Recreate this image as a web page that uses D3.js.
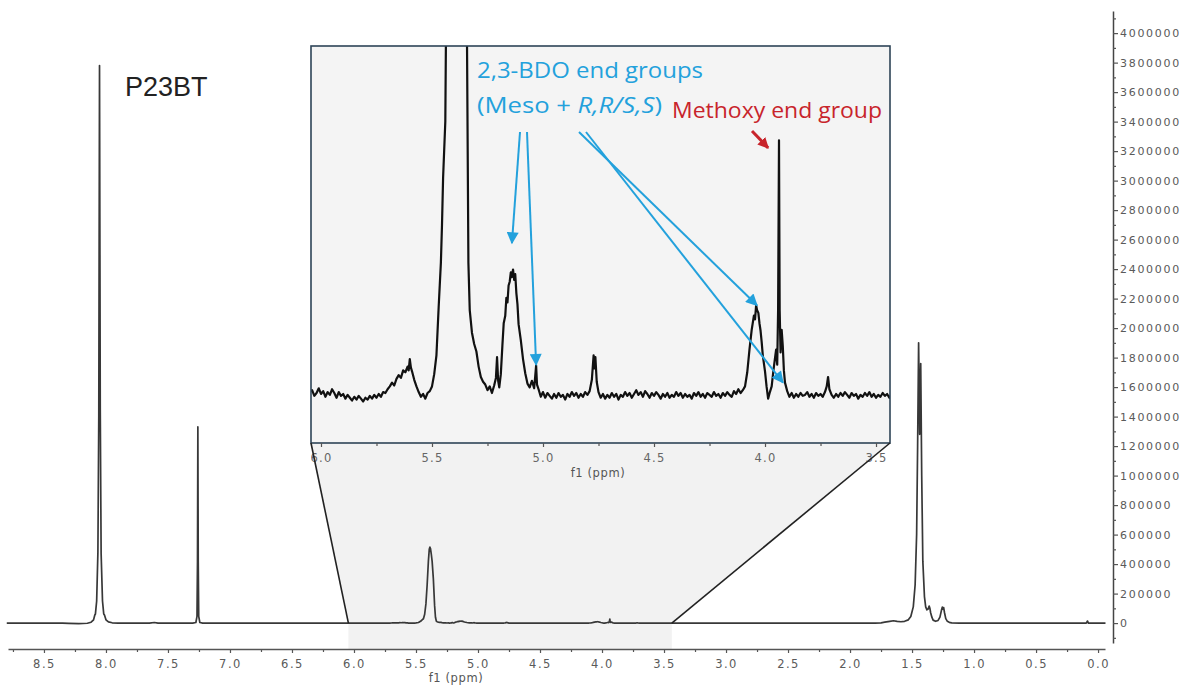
<!DOCTYPE html>
<html>
<head>
<meta charset="utf-8">
<script src="https://cdn.jsdelivr.net/npm/d3@7"></script>
<style>
  html, body { margin: 0; padding: 0; background: #ffffff; }
  svg { display: block; }
</style>
</head>
<body>
<svg id="chart" width="1192" height="686"></svg>
<script>
// 1H NMR spectrum of P23BT: [chemical shift (ppm), intensity]
const spectrum = [
  [8.80, 0], [8.50, 0], [8.35, 0], [8.30, -2000], [8.22, -4000], [8.15, -1000],
  [8.12, 6000], [8.10, 22000], [8.09, 55000], [8.085, 62000], [8.075, 150000],
  [8.065, 480000], [8.058, 1400000], [8.052, 3780000], [8.046, 1450000],
  [8.039, 470000], [8.028, 150000], [8.018, 62000], [8.012, 55000], [8.00, 22000],
  [7.98, 8000], [7.95, 2000], [7.90, 0], [7.65, 0], [7.61, 4000], [7.58, 0],
  [7.30, 0], [7.275, 4000], [7.266, 45000], [7.262, 420000], [7.259, 1330000],
  [7.256, 420000], [7.252, 45000], [7.243, 4000], [7.22, 0], [6.80, 0], [6.10, 0],
  [6.07, 100], [6.06, -200], [6.05, 300], [6.04, 500], [6.03, -100], [6.02, 200],
  [6.01, 700], [6.00, 100], [5.99, 400], [5.98, -200], [5.97, 300], [5.96, 0],
  [5.95, 600], [5.94, 200], [5.93, -300], [5.92, 300], [5.91, -100], [5.90, 100],
  [5.89, -400], [5.88, 0], [5.87, -300], [5.86, -600], [5.85, -200], [5.84, -500],
  [5.83, -100], [5.82, -400], [5.81, -700], [5.80, -300], [5.79, -500], [5.78, -100],
  [5.77, -400], [5.76, 0], [5.75, -300], [5.74, 100], [5.73, -200], [5.72, 300],
  [5.71, 200], [5.70, 600], [5.69, 900], [5.68, 1300], [5.67, 1000], [5.66, 1700],
  [5.65, 2100], [5.64, 1800], [5.63, 2600], [5.62, 2400], [5.61, 3000], [5.605, 2600],
  [5.60, 3800], [5.595, 2900], [5.59, 2500], [5.58, 1600], [5.57, 900], [5.56, 300],
  [5.55, -200], [5.54, 100], [5.53, -400], [5.52, 200], [5.51, 400], [5.50, 900],
  [5.49, 2200], [5.48, 4200], [5.47, 9300], [5.46, 14000], [5.455, 18000],
  [5.45, 23000], [5.44, 29000], [5.43, 60000], [5.42, 130000], [5.41, 260000],
  [5.40, 420000], [5.393, 500000], [5.388, 515000], [5.383, 505000], [5.377, 470000],
  [5.37, 420000], [5.36, 300000], [5.35, 120000], [5.343, 40000], [5.336, 14000],
  [5.33, 9000], [5.32, 6600], [5.31, 5400], [5.30, 4600], [5.29, 3000], [5.28, 1900],
  [5.27, 1400], [5.26, 1100], [5.25, 500], [5.24, 900], [5.23, 200], [5.22, 1000],
  [5.212, 1800], [5.207, 4000], [5.202, 1500], [5.197, 800], [5.19, 2200],
  [5.183, 5200], [5.177, 7600], [5.17, 8400], [5.165, 10300], [5.16, 9800],
  [5.155, 11600], [5.15, 12000], [5.145, 13000], [5.14, 12500], [5.135, 13300],
  [5.13, 12200], [5.125, 12800], [5.12, 10800], [5.115, 9600], [5.11, 7500],
  [5.10, 5800], [5.09, 3800], [5.08, 2300], [5.07, 1200], [5.06, 800], [5.05, 1500],
  [5.04, 700], [5.035, 2000], [5.031, 3100], [5.027, 1100], [5.02, 600], [5.01, -200],
  [5.00, 300], [4.99, -300], [4.98, 200], [4.97, -100], [4.96, -400], [4.95, 100],
  [4.94, -300], [4.93, 200], [4.92, -200], [4.91, 0], [4.90, -500], [4.89, 100],
  [4.88, -200], [4.87, 300], [4.86, -100], [4.85, 200], [4.84, -300], [4.83, 100],
  [4.82, -200], [4.81, 300], [4.80, 0], [4.79, 400], [4.78, 1600], [4.772, 4200],
  [4.768, 2800], [4.764, 4000], [4.758, 1400], [4.75, 300], [4.74, -300], [4.73, 100],
  [4.72, -400], [4.71, 0], [4.70, -300], [4.69, 200], [4.68, -200], [4.67, 100],
  [4.66, -500], [4.65, 0], [4.64, -200], [4.63, 300], [4.62, -100], [4.61, 200],
  [4.60, -300], [4.59, 100], [4.58, 500], [4.57, 0], [4.56, 300], [4.55, -200],
  [4.54, 400], [4.53, 100], [4.52, -300], [4.51, 200], [4.50, -100], [4.49, 300],
  [4.48, 0], [4.47, -400], [4.46, 100], [4.45, -200], [4.44, 200], [4.43, -300],
  [4.42, 0], [4.41, -200], [4.40, 300], [4.39, -100], [4.38, 200], [4.37, -300],
  [4.36, 100], [4.35, -200], [4.34, 0], [4.33, -400], [4.32, 200], [4.31, -100],
  [4.30, 300], [4.29, -200], [4.28, 100], [4.27, -300], [4.26, 200], [4.25, 0],
  [4.24, -200], [4.23, 300], [4.22, -100], [4.21, 100], [4.20, -300], [4.19, 200],
  [4.18, -100], [4.17, 300], [4.16, 0], [4.15, -200], [4.14, 400], [4.13, 100],
  [4.12, 600], [4.11, 200], [4.10, 500], [4.09, 900], [4.08, 2400], [4.07, 4800],
  [4.06, 6900], [4.05, 8400], [4.045, 8000], [4.04, 9500], [4.036, 9000],
  [4.03, 8700], [4.025, 7600], [4.02, 6800], [4.015, 5600], [4.01, 4200],
  [4.00, 2500], [3.993, 900], [3.986, -400], [3.978, 300], [3.97, 900],
  [3.962, 2600], [3.955, 3900], [3.95, 4800], [3.945, 3200], [3.941, 9000],
  [3.937, 27000], [3.934, 9000], [3.93, 4500], [3.925, 6900], [3.92, 5200],
  [3.915, 2600], [3.91, 1300], [3.90, 400], [3.89, -200], [3.88, 200], [3.87, -300],
  [3.86, 100], [3.85, -200], [3.84, 200], [3.83, -100], [3.82, 0], [3.81, 300],
  [3.80, -200], [3.79, 100], [3.78, -300], [3.77, 200], [3.76, -100], [3.75, 100],
  [3.74, -200], [3.73, 300], [3.722, 900], [3.716, 1900], [3.71, 600], [3.70, 0],
  [3.69, -300], [3.68, 100], [3.67, -200], [3.66, 200], [3.65, -100], [3.64, 300],
  [3.63, 0], [3.62, -300], [3.61, 200], [3.60, -100], [3.59, 100], [3.58, -400],
  [3.57, 0], [3.56, -200], [3.55, 200], [3.54, -100], [3.53, 300], [3.52, -200],
  [3.51, 100], [3.50, -300], [3.49, 0], [3.48, -200], [3.47, 200], [3.46, -100],
  [3.45, 100], [3.44, -300], [3.43, 0], [3.42, 100], [3.40, 0],
  [2.00, 0], [1.80, 0], [1.75, 2000], [1.72, 6000], [1.68, 12000], [1.65, 16000],
  [1.62, 12000], [1.59, 9000], [1.56, 12000], [1.53, 22000], [1.51, 45000],
  [1.49, 110000], [1.475, 260000], [1.463, 600000], [1.455, 1200000],
  [1.447, 1900000], [1.4385, 1280000], [1.43, 1760000], [1.422, 1000000],
  [1.413, 420000], [1.40, 180000], [1.39, 110000], [1.38, 90000], [1.37, 95000],
  [1.362, 115000], [1.356, 100000], [1.35, 70000], [1.34, 40000], [1.33, 20000],
  [1.31, 12000], [1.29, 18000], [1.275, 40000], [1.262, 90000], [1.256, 108000],
  [1.25, 95000], [1.245, 105000], [1.238, 70000], [1.228, 30000], [1.215, 12000],
  [1.20, 5000], [1.18, 1500], [1.12, 0], [0.30, 0], [0.095, 0], [0.085, 14000],
  [0.078, 0], [-0.06, 0]
];

// Axis ticks
const ppmTicks = [8.5, 8.0, 7.5, 7.0, 6.5, 6.0, 5.5, 5.0, 4.5, 4.0, 3.5, 3.0, 2.5, 2.0, 1.5, 1.0, 0.5, 0.0];
const ppmMinorTicks = [8.75, 8.25, 7.75, 7.25, 6.75, 6.25, 5.75, 5.25, 4.75, 4.25, 3.75, 3.25, 2.75, 2.25, 1.75, 1.25, 0.75, 0.25];
const insetTicks = [6.0, 5.5, 5.0, 4.5, 4.0, 3.5];
const insetMinorTicks = [5.75, 5.25, 4.75, 4.25, 3.75];
const intensityTicks = [0, 200000, 400000, 600000, 800000, 1000000, 1200000, 1400000,
  1600000, 1800000, 2000000, 2200000, 2400000, 2600000, 2800000, 3000000, 3200000,
  3400000, 3600000, 3800000, 4000000];
const intensityMinorTicks = [-100000, 100000, 300000, 500000, 700000, 900000, 1100000,
  1300000, 1500000, 1700000, 1900000, 2100000, 2300000, 2500000, 2700000, 2900000,
  3100000, 3300000, 3500000, 3700000, 3900000, 4100000];

// Expanded region shown in the inset (ppm)
const insetRange = [6.045, 3.437];

// Peak assignments in the inset: [ppm, intensity] targets of the arrows
const bdoTargets = [[5.140, 16100], [5.031, 3200], [4.036, 9500], [3.919, 1300]];
const methoxyTarget = [3.986, 26200];

const sampleName = "P23BT";
const bdoLabel = "2,3-BDO end groups";
const methoxyLabel = "Methoxy end group";

const blue = "#23a1dc";
const red = "#c8242b";
const tickFont = "DejaVu Sans, Verdana, sans-serif";

const svg = d3.select("#chart");
const defs = svg.append("defs");

// Scales for the full spectrum
const x = d3.scaleLinear().domain([8.79, -0.056]).range([8, 1105]);
const y = d3.scaleLinear().domain([-135000, 4150000]).range([643, 11]);
const axisY = 649;
const axisX = 1113;

// Scales for the expanded inset
const box = { x0: 311, x1: 890, y0: 46, y1: 443 };
const xIn = d3.scaleLinear().domain(insetRange).range([box.x0, box.x1]);
const yIn = d3.scaleLinear().domain([-5100, 37000]).range([box.y1, box.y0]);

// Shaded region linking the inset to the full spectrum
const bx0 = x(insetRange[0]), bx1 = x(insetRange[1]), by = y(0);
svg.append("path")
  .attr("d", `M${box.x0},${box.y1}L${box.x1},${box.y1}L${bx1},${by}L${bx1},${axisY}L${bx0},${axisY}L${bx0},${by}Z`)
  .attr("fill", "#f2f2f2");

// Full spectrum trace
const mainLine = d3.line().x(d => x(d[0])).y(d => y(d[1]));
svg.append("path")
  .datum(spectrum)
  .attr("d", mainLine)
  .attr("fill", "none")
  .attr("stroke", "#383838")
  .attr("stroke-width", 1.7)
  .attr("stroke-linejoin", "round");

// Inset frame
svg.append("rect")
  .attr("x", box.x0).attr("y", box.y0)
  .attr("width", box.x1 - box.x0).attr("height", box.y1 - box.y0)
  .attr("fill", "#f4f4f4");

defs.append("clipPath").attr("id", "insetClip")
  .append("rect")
  .attr("x", box.x0).attr("y", box.y0)
  .attr("width", box.x1 - box.x0).attr("height", box.y1 - box.y0);

const insetLine = d3.line().x(d => xIn(d[0])).y(d => yIn(d[1]));
svg.append("path")
  .datum(spectrum.filter(d => d[0] <= 6.1 && d[0] >= 3.4))
  .attr("clip-path", "url(#insetClip)")
  .attr("d", insetLine)
  .attr("fill", "none")
  .attr("stroke", "#111111")
  .attr("stroke-width", 2.2)
  .attr("stroke-linejoin", "round");

svg.append("rect")
  .attr("x", box.x0).attr("y", box.y0)
  .attr("width", box.x1 - box.x0).attr("height", box.y1 - box.y0)
  .attr("fill", "none")
  .attr("stroke", "#2d4457")
  .attr("stroke-width", 1.6);

// Inset x axis (labels clipped to the inset width; coordinates are local to the axis group)
defs.append("clipPath").attr("id", "insetAxisClip")
  .append("rect")
  .attr("x", box.x0).attr("y", -2)
  .attr("width", box.x1 - box.x0 + 2).attr("height", 40);

function styleAxis(g, size, spacing, color) {
  g.attr("font-family", tickFont).attr("font-size", size);
  g.selectAll(".tick text").attr("fill", color).attr("letter-spacing", spacing);
  g.selectAll(".tick line").attr("stroke", "#555").attr("stroke-width", 1.2);
}

const gInset = svg.append("g")
  .attr("transform", `translate(0,${box.y1})`)
  .attr("clip-path", "url(#insetAxisClip)");
gInset.append("g")
  .call(d3.axisBottom(xIn).tickValues(insetTicks).tickSize(4).tickSizeOuter(0)
    .tickPadding(7).tickFormat(d3.format(".1f")))
  .call(g => g.select(".domain").remove())
  .call(g => styleAxis(g, 11.5, 1.3, "#666"));
gInset.append("g")
  .call(d3.axisBottom(xIn).tickValues(insetMinorTicks).tickSize(3).tickSizeOuter(0).tickFormat(""))
  .call(g => g.select(".domain").remove())
  .call(g => styleAxis(g, 11, 0, "#666"));

svg.append("text")
  .attr("x", 598).attr("y", 477)
  .attr("text-anchor", "middle")
  .attr("font-family", tickFont).attr("font-size", 11.5)
  .attr("letter-spacing", 0.6)
  .attr("fill", "#555")
  .text("f1 (ppm)");

// Connector lines from inset corners to the expanded region
svg.append("line")
  .attr("x1", box.x0).attr("y1", box.y1).attr("x2", bx0).attr("y2", by)
  .attr("stroke", "#222").attr("stroke-width", 1.6);
svg.append("line")
  .attr("x1", box.x1).attr("y1", box.y1).attr("x2", bx1).attr("y2", by)
  .attr("stroke", "#222").attr("stroke-width", 1.6);

// Main x axis
const gx = svg.append("g").attr("transform", `translate(0,${axisY})`);
gx.append("g")
  .call(d3.axisBottom(x).tickValues(ppmTicks).tickSize(4).tickSizeOuter(0)
    .tickPadding(7).tickFormat(d3.format(".1f")))
  .call(g => g.select(".domain").attr("stroke", "#555").attr("stroke-width", 1.6))
  .call(g => styleAxis(g, 11.5, 1.5, "#5a5a5a"));
gx.append("g")
  .call(d3.axisBottom(x).tickValues(ppmMinorTicks).tickSize(3).tickSizeOuter(0).tickFormat(""))
  .call(g => g.select(".domain").remove())
  .call(g => styleAxis(g, 11, 0, "#5a5a5a"));

svg.append("text")
  .attr("x", 456).attr("y", 682)
  .attr("text-anchor", "middle")
  .attr("font-family", tickFont).attr("font-size", 11.5)
  .attr("letter-spacing", 0.6)
  .attr("fill", "#555")
  .text("f1 (ppm)");

// Main intensity axis (right)
const gy = svg.append("g").attr("transform", `translate(${axisX},0)`);
gy.append("g")
  .call(d3.axisRight(y).tickValues(intensityTicks).tickSize(5).tickSizeOuter(0)
    .tickPadding(2).tickFormat(d3.format("d")))
  .call(g => g.select(".domain").attr("stroke", "#444").attr("stroke-width", 1.5))
  .call(g => styleAxis(g, 11, 1.7, "#5a5a5a"));
gy.append("g")
  .call(d3.axisRight(y).tickValues(intensityMinorTicks).tickSize(3).tickSizeOuter(0).tickFormat(""))
  .call(g => g.select(".domain").remove())
  .call(g => styleAxis(g, 11, 0, "#5a5a5a"));

// Sample name
svg.append("text")
  .attr("x", 125).attr("y", 96)
  .attr("font-family", "Liberation Sans, Arial, sans-serif")
  .attr("font-size", 27)
  .attr("fill", "#222")
  .text(sampleName);

// Annotations
const annoFont = "Open Sans, Noto Sans, sans-serif";
svg.append("text")
  .attr("x", 477).attr("y", 78)
  .attr("font-family", annoFont).attr("font-size", 22)
  .attr("textLength", 226).attr("lengthAdjust", "spacingAndGlyphs")
  .attr("fill", blue)
  .text(bdoLabel);

const t2 = svg.append("text")
  .attr("x", 477).attr("y", 113)
  .attr("font-family", annoFont).attr("font-size", 22)
  .attr("textLength", 185).attr("lengthAdjust", "spacingAndGlyphs")
  .attr("fill", blue);
t2.append("tspan").text("(Meso + ");
t2.append("tspan").attr("font-style", "italic").text("R,R/S,S");
t2.append("tspan").text(")");

svg.append("text")
  .attr("x", 672).attr("y", 118)
  .attr("font-family", annoFont).attr("font-size", 22)
  .attr("textLength", 210).attr("lengthAdjust", "spacingAndGlyphs")
  .attr("fill", red)
  .text(methoxyLabel);

function marker(id, color, len, wid) {
  defs.append("marker")
    .attr("id", id)
    .attr("viewBox", "0 0 10 10")
    .attr("refX", 9).attr("refY", 5)
    .attr("markerUnits", "userSpaceOnUse")
    .attr("markerWidth", len).attr("markerHeight", wid)
    .attr("orient", "auto")
    .append("path")
    .attr("d", "M0,0L10,5L0,10Z")
    .attr("fill", color);
}
marker("headBlue", blue, 14, 12);
marker("headRed", red, 11, 11);

const bdoStarts = [[520, 132], [527, 132], [579, 132], [586, 132]];
bdoTargets.forEach((t, i) => {
  svg.append("line")
    .attr("x1", bdoStarts[i][0]).attr("y1", bdoStarts[i][1])
    .attr("x2", xIn(t[0])).attr("y2", yIn(t[1]))
    .attr("stroke", blue).attr("stroke-width", 2)
    .attr("marker-end", "url(#headBlue)");
});

svg.append("line")
  .attr("x1", 752).attr("y1", 131)
  .attr("x2", xIn(methoxyTarget[0])).attr("y2", yIn(methoxyTarget[1]))
  .attr("stroke", red).attr("stroke-width", 3)
  .attr("marker-end", "url(#headRed)");
</script>
</body>
</html>
